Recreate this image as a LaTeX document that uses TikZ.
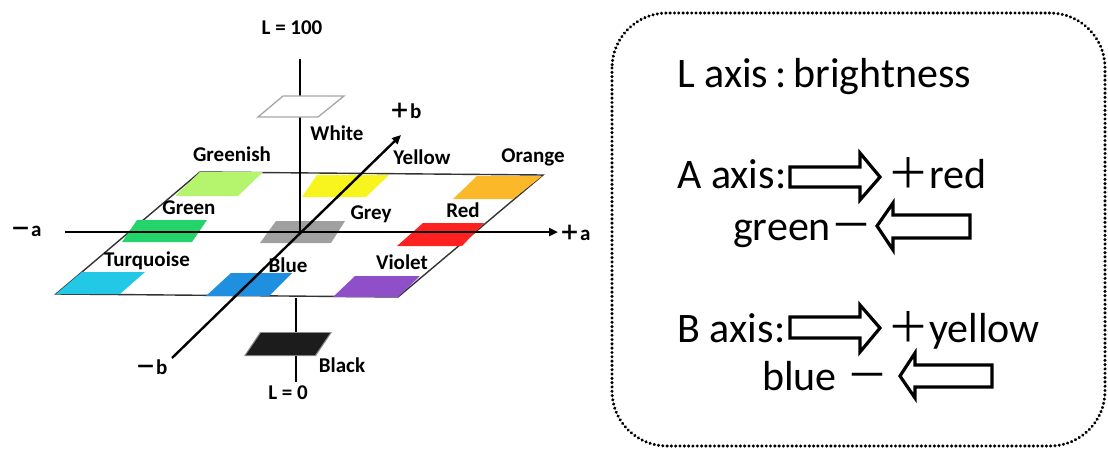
\documentclass[tikz,border=0pt]{standalone}
\usepackage{fontspec}
\setmainfont{Carlito}
\newfontfamily\cjk{Noto Sans CJK SC}
\usetikzlibrary{arrows.meta}
\definecolor{cGreenish}{HTML}{B5F56E}
\definecolor{cGreen}{HTML}{22D46A}
\definecolor{cTurq}{HTML}{22C8E6}
\definecolor{cBlue}{HTML}{1F8FE0}
\definecolor{cGrey}{HTML}{A0A0A0}
\definecolor{cYellow}{HTML}{F8F51E}
\definecolor{cOrange}{HTML}{FBB929}
\definecolor{cRed}{HTML}{FF2020}
\definecolor{cViolet}{HTML}{8E4FC8}
\definecolor{cBlack}{HTML}{1C1C1C}
\begin{document}
\begin{tikzpicture}[x=1pt,y=-1pt,
  lbl/.style={font=\bfseries\fontsize{21}{24}\selectfont, inner sep=0pt},
  big/.style={font=\fontsize{42}{46}\selectfont, inner sep=0pt, anchor=base west},
  axisline/.style={line width=2.4pt, black},
  axisarrow/.style={axisline, -{Triangle[length=9pt,width=8pt]}},
  planeline/.style={line width=1.4pt, black!80},
  hollow/.style={draw=black, line width=3.2pt, fill=white, line join=miter},
  dotbox/.style={draw=black, line width=3.4pt, line cap=round, dash pattern=on 0.01pt off 4.3pt, rounded corners=55pt}
]
\useasboundingbox (0,0) rectangle (1108,450);

% plane
\draw[planeline, fill=white] (200,172) -- (543,175) -- (398,297) -- (56,294) -- cycle;

% colour patches
\fill[cGreenish] (200,172) -- (263,172) -- (238,196) -- (175,196) -- cycle;
\fill[cYellow]   (317,175) -- (389,175) -- (366,197) -- (302,197) -- cycle;
\fill[cOrange]   (477,176) -- (542,176) -- (513,199) -- (453,199) -- cycle;
\fill[cGreen]    (137,220) -- (207,220) -- (192,242) -- (122,242) -- cycle;
\fill[cGrey]     (276,221) -- (345,221) -- (331,243) -- (260,243) -- cycle;
\fill[cRed]      (423,223) -- (484,223) -- (462,246) -- (397,246) -- cycle;
\fill[cTurq]     (82,272) -- (145,272) -- (120,294) -- (56,294) -- cycle;
\fill[cBlue]     (231,273) -- (292,273) -- (269,296) -- (206,296) -- cycle;
\fill[cViolet]   (355,276) -- (420,276) -- (398,297) -- (333,297) -- cycle;

% axis coordinates
\coordinate (O) at (300,232);
\coordinate (aL) at (65,232);
\coordinate (aR) at (558,232);
\coordinate (bB) at (172,358);
\coordinate (bT) at (401,135);
\coordinate (LT) at (300,59);
\coordinate (LB1) at (296,298);
\coordinate (LB2) at (296,382);

\draw[axisarrow] (aL) -- (aR);
\draw[axisarrow] (bB) -- (bT);
\draw[axisline] (LT) -- (O);
\draw[axisline] (LB1) -- (LB2);

% white and black squares
\draw[line width=1.3pt, black!35, fill=white] (258,117) -- (283,96) -- (344,96) -- (318,117) -- cycle;
\fill[black!45] (244,356) -- (260,332) -- (332,332) -- (316,356) -- cycle;
\fill[cBlack] (246,355) -- (261,333) -- (330,333) -- (315,355) -- cycle;

% labels
\node[lbl] (l100) at (292,28) {L = 100};
\node[lbl] (l0) at (288,393) {L = 0};
\node[lbl, anchor=west] (pb) at (389,111) {{\cjk ＋}b};
\node[lbl, anchor=west] (mb) at (135,367) {{\cjk －}b};
\node[lbl, anchor=west] (pa) at (559,233) {{\cjk ＋}a};
\node[lbl, anchor=west] (ma) at (10,231) {{\cjk －}a};
\node[lbl] (tWhite) at (337,133) {White};
\node[lbl] (tGreenish) at (232,154) {Greenish};
\node[lbl] (tYellow) at (422,157) {Yellow};
\node[lbl] (tOrange) at (533,157) {Orange};
\node[lbl] (tGreen) at (189,208) {Green};
\node[lbl] (tGrey) at (371,214) {Grey};
\node[lbl] (tRed) at (463,210) {Red};
\node[lbl] (tTurq) at (147,261) {Turquoise};
\node[lbl] (tBlue) at (288,265) {Blue};
\node[lbl] (tViolet) at (402,262) {Violet};
\node[lbl] (tBlack) at (342,365) {Black};

% right panel
\draw[dotbox] (612,13) rectangle (1105,446);
\node[big] (tL) at (677,87) {L axis\,:\,brightness};
\node[big] (tA) at (677,188) {A axis\kern1pt:};
\draw[hollow] (790,167) -- (860,167) -- (860,153) -- (880,177) -- (860,200) -- (860,187) -- (790,187) -- cycle;
\node[big] (tAp) at (887,188) {{\cjk ＋}red};
\node[big] (tAm) at (733,240) {green{\cjk －}};
\draw[hollow] (970,215) -- (893,215) -- (893,203) -- (877,226) -- (893,250) -- (893,238) -- (970,238) -- cycle;
\node[big] (tB) at (677,342) {B axis\kern1pt:};
\draw[hollow] (790,317) -- (860,317) -- (860,305) -- (880,328) -- (860,352) -- (860,338) -- (790,338) -- cycle;
\node[big] (tBp) at (887,342) {{\cjk ＋}yellow};
\node[big] (tBm) at (762,390) {blue {\cjk －}};
\draw[hollow] (992,365) -- (915,365) -- (915,353) -- (900,376) -- (915,398) -- (915,387) -- (992,387) -- cycle;
\end{tikzpicture}
\end{document}
